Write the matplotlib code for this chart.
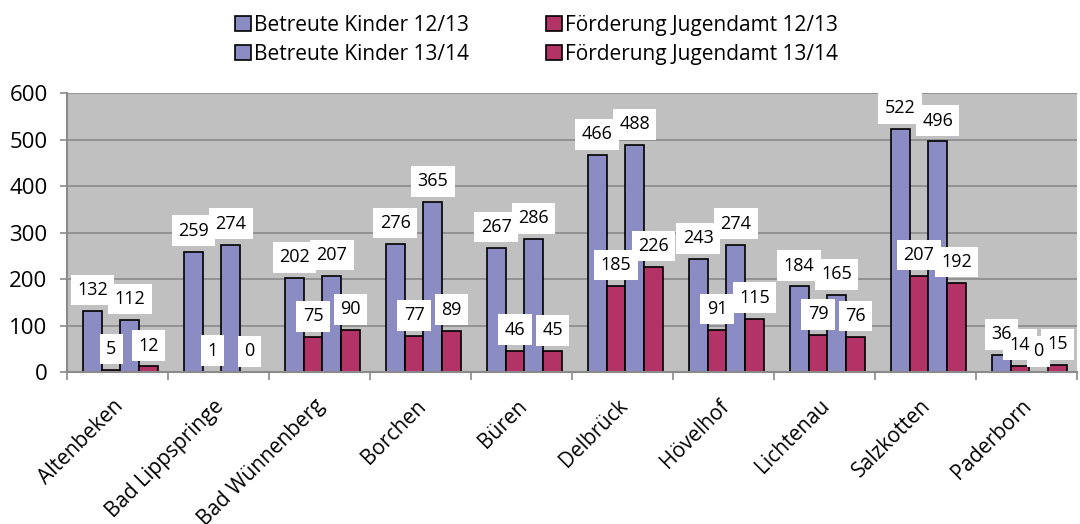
import matplotlib.pyplot as plt
import numpy as np

orte = ["Altenbeken", "Bad Lippspringe", "Bad Wünnenberg", "Borchen", "Büren",
        "Delbrück", "Hövelhof", "Lichtenau", "Salzkotten", "Paderborn"]
kinder_1213 = [132, 259, 202, 276, 267, 466, 243, 184, 522, 36]
foerd_1213 = [5, 1, 75, 77, 46, 185, 91, 79, 207, 14]
kinder_1314 = [112, 274, 207, 365, 286, 488, 274, 165, 496, 0]
foerd_1314 = [12, 0, 90, 89, 45, 226, 115, 76, 192, 15]

blau = "#8c8cc4"
rot = "#b33366"

plt.rcParams['font.family'] = ['Open Sans', 'DejaVu Sans']

fig = plt.figure(figsize=(10.8, 5.24), dpi=100)
ax = fig.add_axes([0.062, 0.29, 0.935, 0.5325])
ax.set_facecolor("#c0c0c0")

x = np.arange(len(orte))
w = 0.186
reihen = [(kinder_1213, blau, "Betreute Kinder 12/13"),
          (foerd_1213, rot, "Förderung Jugendamt 12/13"),
          (kinder_1314, blau, "Betreute Kinder 13/14"),
          (foerd_1314, rot, "Förderung Jugendamt 13/14")]
balken = []
for i, (werte, farbe, name) in enumerate(reihen):
    pos = x + (i - 1.5) * w + 0.03
    b = ax.bar(pos, werte, w, color=farbe, edgecolor="black",
               linewidth=1.2, label=name, zorder=2)
    balken.append(b)
    for xi, v in zip(pos, werte):
        # weisse Box zuerst, Text darueber, damit keine Zahl verdeckt wird
        ax.annotate(str(v), (xi, v), xytext=(0, 15), textcoords="offset points",
                    ha="center", va="center", fontsize=13, zorder=4, color="white",
                    bbox=dict(boxstyle="square,pad=0.35", fc="white", ec="none"),
                    annotation_clip=False)
        ax.annotate(str(v), (xi, v), xytext=(0, 15), textcoords="offset points",
                    ha="center", va="center", fontsize=13, zorder=6,
                    annotation_clip=False)

ax.set_xlim(-0.5, 9.5)
ax.set_ylim(0, 600)
ax.set_yticks(range(0, 601, 100))
ax.yaxis.grid(True, color="#8a8a8a", linewidth=1.2, zorder=0)
ax.set_axisbelow(True)
ax.tick_params(axis="y", labelsize=16, color="#8a8a8a", length=5, width=1.2, pad=9)

ax.set_xticks(x - 0.05)
ax.set_xticklabels(orte, rotation=45, ha="right", va="top", rotation_mode="anchor",
                   fontsize=15)
ax.set_xticks(np.arange(-0.5, 10, 1), minor=True)
ax.tick_params(axis="x", which="major", length=0, pad=17)
ax.tick_params(axis="x", which="minor", length=6, color="#8a8a8a", width=1.2)

for s in ["top", "right"]:
    ax.spines[s].set_visible(False)
for s in ["left", "bottom"]:
    ax.spines[s].set_color("#8a8a8a")
    ax.spines[s].set_linewidth(1.5)

handles = [balken[0], balken[2], balken[1], balken[3]]
labels = [reihen[0][2], reihen[2][2], reihen[1][2], reihen[3][2]]
fig.legend(handles, labels, ncol=2, loc="upper center", bbox_to_anchor=(0.497, 1.0),
           frameon=False, fontsize=15, handlelength=0.75, handleheight=0.75,
           handletextpad=0.15, columnspacing=3.7, labelspacing=0.4,
           borderaxespad=0.3)

fig.savefig("out.png", dpi=100)
